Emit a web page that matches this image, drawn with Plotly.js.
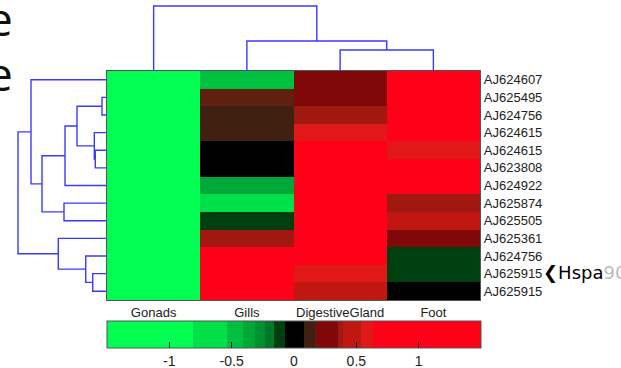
<!DOCTYPE html>
<html>
<head>
<meta charset="utf-8">
<script src="https://cdn.plot.ly/plotly-3.0.1.min.js"></script>
<style>html,body{margin:0;padding:0;background:#fff;}#chart{width:621px;height:368px;}</style>
</head>
<body>
<div id="chart"></div>
<script>
// ---------- data ----------
const columns = ["Gonads", "Gills", "DigestiveGland", "Foot"];
const rowLabels = ["AJ624607","AJ625495","AJ624756","AJ624615","AJ624615","AJ623808",
                   "AJ624922","AJ625874","AJ625505","AJ625361","AJ624756","AJ625915","AJ625915"];
// standardized expression, columns: Gonads, Gills, DigestiveGland, Foot
const gonads = [-1.45,-1.48,-1.47,-1.45,-1.40,-1.42,-1.38,-1.35,-1.30,-1.32,-1.25,-1.28,-1.20];
const gills  = [-0.47, 0.17, 0.12, 0.13, 0.00, 0.01,-0.36,-0.65,-0.12, 0.37, 0.95, 0.90, 0.85];
const digestiveGland = [0.27, 0.25, 0.37, 0.58, 0.95, 0.90, 0.95, 1.10, 1.05, 1.15, 0.98, 0.60, 0.45];
const foot   = [1.30, 1.25, 1.20, 1.10, 0.60, 0.85, 0.90, 0.37, 0.48, 0.26,-0.11,-0.13, 0.00];
// row linkage [clusterA, clusterB, distance]; leaves 0..12, new clusters 13..
const rowLinkage = [[1,2,5],[4,5,11.7],[3,14,12.7],[11,12,14.3],[10,16,21.3],[13,15,30],
                    [18,6,42],[7,8,43],[9,17,48.7],[19,20,65],[0,22,76],[23,21,89]];
// column linkage; leaves 0..3
const colLinkage = [[2,3,21],[1,4,30],[0,5,65]];
const colorbarTicks = [-1, -0.5, 0, 0.5, 1];
const colorbarTickText = ["-1", "-0.5", "0", "0.5", "1"];

// ---------- colour map (stepped green-black-red) ----------
const zMin = -1.5, zMax = 1.5;
const bandEdges = [-1.5,-0.81,-0.54,-0.41,-0.31,-0.23,-0.16,-0.07,0.08,0.165,0.18,0.35,0.39,0.54,0.63,1.5];
const bandColors = ["#00ff50","#00e048","#00c040","#00a838","#009030","#007828","#004010","#000000",
                    "#402010","#602010","#800808","#a01810","#c01810","#e01818","#ff0018"];
const colorscale = [];
for (let i = 0; i < bandColors.length; i++) {
  colorscale.push([(bandEdges[i]-zMin)/(zMax-zMin), bandColors[i]]);
  colorscale.push([(bandEdges[i+1]-zMin)/(zMax-zMin), bandColors[i]]);
}

const z = rowLabels.map((_, i) => [gonads[i], gills[i], digestiveGland[i], foot[i]]);
const rowIdx = rowLabels.map((_, i) => i);
const colIdx = columns.map((_, i) => i);

// ---------- dendrogram geometry from linkage ----------
function dendro(linkage, nLeaves) {
  const pos = [], hgt = [];
  for (let i = 0; i < nLeaves; i++) { pos.push(i); hgt.push(0); }
  const P = [], H = [];
  linkage.forEach(([a, b, d]) => {
    P.push(pos[a], pos[a], pos[b], pos[b], null);
    H.push(hgt[a], d, d, hgt[b], null);
    pos.push((pos[a] + pos[b]) / 2); hgt.push(d);
  });
  return {P, H};
}
const rd = dendro(rowLinkage, rowLabels.length);
const cd = dendro(colLinkage, columns.length);

const W = 480, Hh = 300;           // plot area (px) after margins
const hmLeft = 107 / W, hmTop = 229 / Hh;
const lineStyle = {color: "#3a3aff", width: 1.4};

const traces = [
  {type: "heatmap", z: z, x: colIdx, y: rowIdx, xaxis: "x", yaxis: "y",
   colorscale: colorscale, zmin: zMin, zmax: zMax, hoverinfo: "skip",
   colorbar: {orientation: "h", x: hmLeft, xanchor: "left", y: -21/Hh, yanchor: "top",
              len: 374, lenmode: "pixels", thickness: 27, thicknessmode: "pixels",
              xpad: 0, ypad: 0, outlinewidth: 1, outlinecolor: "#555",
              tickvals: colorbarTicks, ticktext: colorbarTickText,
              ticks: "inside", ticklen: 6, tickcolor: "#000",
              tickfont: {family: "Liberation Sans, Arial, sans-serif", size: 14, color: "#222"}}},
  {type: "scatter", mode: "lines", x: cd.P, y: cd.H, xaxis: "x2", yaxis: "y2",
   line: lineStyle, hoverinfo: "skip", connectgaps: false},
  {type: "scatter", mode: "lines", x: rd.H, y: rd.P, xaxis: "x3", yaxis: "y3",
   line: lineStyle, hoverinfo: "skip", connectgaps: false}
];

const hidden = {visible: false, showgrid: false, zeroline: false, fixedrange: true};
const labelFont = {family: "Liberation Sans, Arial, sans-serif", size: 13, color: "#222"};

const layout = {
  width: 621, height: 368,
  margin: {l: 0, r: 141, t: 0, b: 68, autoexpand: false},
  paper_bgcolor: "#fff", plot_bgcolor: "#fff",
  showlegend: false,
  xaxis: {domain: [hmLeft, 1], range: [-0.5, 3.5], tickvals: colIdx, ticktext: columns,
          tickfont: labelFont, ticks: "", showgrid: false, zeroline: false,
          showline: true, mirror: true, linecolor: "#555", linewidth: 1.2, fixedrange: true},
  yaxis: {domain: [0, hmTop], range: [12.5, -0.5], tickvals: rowIdx, ticktext: rowLabels,
          side: "right", tickfont: labelFont, ticks: "", showgrid: false, zeroline: false,
          showline: true, mirror: true, linecolor: "#555", linewidth: 1.2, fixedrange: true},
  xaxis2: Object.assign({domain: [hmLeft, 1], range: [-0.5, 3.5], anchor: "y2"}, hidden),
  yaxis2: Object.assign({domain: [hmTop, 1], range: [0, 71], anchor: "x2"}, hidden),
  xaxis3: Object.assign({domain: [0, hmLeft], range: [107, 0], anchor: "y3"}, hidden),
  yaxis3: Object.assign({domain: [0, hmTop], range: [12.5, -0.5], anchor: "x3"}, hidden),
  annotations: [
    {xref: "paper", yref: "paper", x: 15/W, y: 1 - 18.5/Hh, xanchor: "right", yanchor: "middle",
     height: 44, text: "e", showarrow: false,
     font: {family: "Open Sans, sans-serif", size: 46, color: "#111"}},
    {xref: "paper", yref: "paper", x: 15/W, y: 1 - 72.5/Hh, xanchor: "right", yanchor: "middle",
     height: 44, text: "e", showarrow: false,
     font: {family: "Open Sans, sans-serif", size: 46, color: "#111"}},
    {xref: "paper", yref: "paper", x: 541/W, y: 1 - 273/Hh, xanchor: "left", yanchor: "middle",
     text: "<b>❮</b>Hspa<span style=\"color:#bbbbbb\">90</span>", showarrow: false,
     font: {family: "DejaVu Sans, Liberation Sans, sans-serif", size: 18, color: "#000"}}
  ]
};

Plotly.newPlot("chart", traces, layout, {displayModeBar: false, staticPlot: true});
</script>
</body>
</html>
